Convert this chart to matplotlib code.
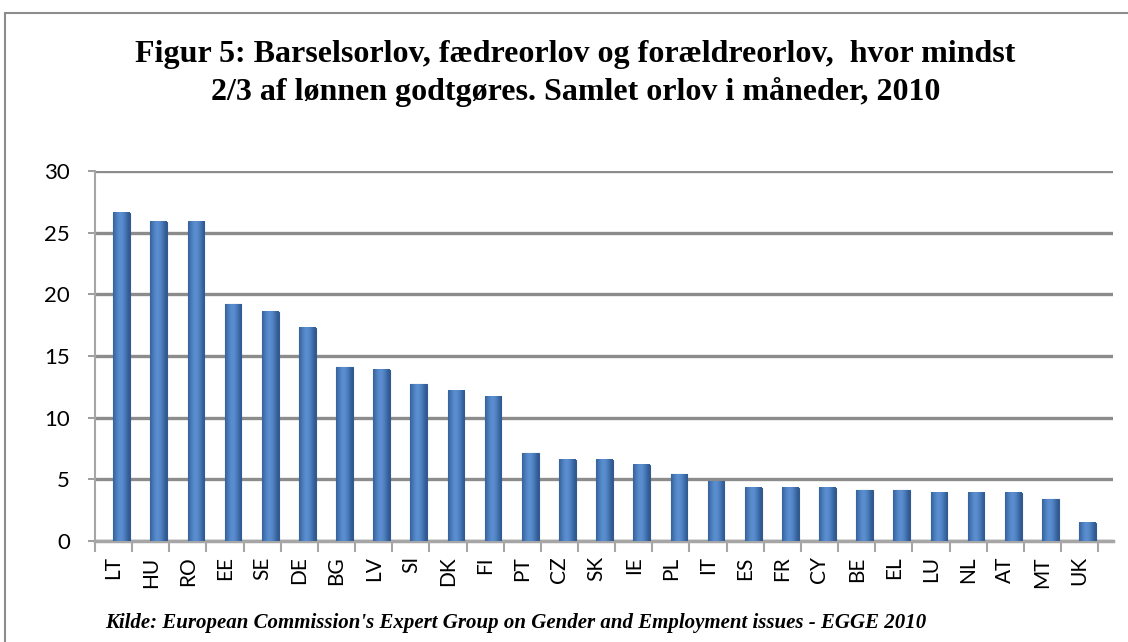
import matplotlib.pyplot as plt
import matplotlib.transforms as mtransforms
from matplotlib.patches import Rectangle
from matplotlib.colors import LinearSegmentedColormap
import numpy as np

# lande og samlet orlov i måneder
lande = ['LT', 'HU', 'RO', 'EE', 'SE', 'DE', 'BG', 'LV', 'SI', 'DK', 'FI', 'PT', 'CZ', 'SK',
         'IE', 'PL', 'IT', 'ES', 'FR', 'CY', 'BE', 'EL', 'LU', 'NL', 'AT', 'MT', 'UK']
orlov = [26.6, 25.9, 25.9, 19.2, 18.6, 17.3, 14.1, 13.9, 12.7, 12.2, 11.7, 7.1, 6.6, 6.6,
         6.2, 5.4, 4.8, 4.3, 4.3, 4.3, 4.1, 4.1, 3.9, 3.9, 3.9, 3.4, 1.5]
yticks = [0, 5, 10, 15, 20, 25, 30]

titel = ('Figur 5: Barselsorlov, fædreorlov og forældreorlov,  hvor mindst\n'
         '2/3 af lønnen godtgøres. Samlet orlov i måneder, 2010')
kilde = "Kilde: European Commission's Expert Group on Gender and Employment issues - EGGE 2010"

grid_col = '#8c8c8c'
tick_font = ['Lato', 'DejaVu Sans']

fig = plt.figure(figsize=(11.28, 6.42), dpi=100)
ax = fig.add_axes([95 / 1128, 1 - 541 / 642, 1018 / 1128, 370 / 642])

x = np.arange(len(lande))
# 3D-dybde: søjlerne står lidt bag forkanten
shift = mtransforms.offset_copy(ax.transData, fig=fig, x=8, y=0, units='dots')
bars = ax.bar(x, orlov, width=0.45, color='#4a7ebb', edgecolor='#34598a',
              linewidth=0.8, transform=shift, zorder=3)

# gradient på søjlerne
grad = np.linspace(0, 1, 64)
grad = np.exp(-((grad - 0.45) / 0.45) ** 2)[None, :]
cm = LinearSegmentedColormap.from_list('b', ['#2d5890', '#5a8ed0'])
for b in bars:
    x0 = b.get_x()
    ax.imshow(grad, cmap=cm, aspect='auto', extent=[x0, x0 + b.get_width(), 0, b.get_height()],
              transform=shift, clip_path=b, zorder=4, interpolation='bicubic')

ax.set_xlim(-0.5, 26.9)
ax.set_ylim(0, 30)
ax.set_yticks(yticks)
ax.yaxis.grid(True, color=grid_col, linewidth=2.4, zorder=1)
ax.set_axisbelow(True)

ax.set_xticks(x)
ax.set_xticklabels(lande, rotation=90, family=tick_font, fontsize=15)
ax.set_xticks(np.arange(-0.5, 26.6, 1), minor=True)
ax.tick_params(axis='x', which='major', length=0, pad=11)
ax.tick_params(axis='x', which='minor', length=8, color='#a6a6a6', width=1.5)
ax.tick_params(axis='y', length=5, color='#8c8c8c', width=1.2, pad=13, labelsize=16)
for lab in ax.get_yticklabels():
    lab.set_family(tick_font)

for s in ['top', 'right']:
    ax.spines[s].set_visible(False)
ax.spines['left'].set_color('#a6a6a6')
ax.spines['left'].set_linewidth(1.5)
ax.spines['bottom'].set_color('#a6a6a6')
ax.spines['bottom'].set_linewidth(2.5)

fig.text(0.510, 0.885, titel, ha='center', va='center', family=['Liberation Serif'],
         fontweight='bold', fontsize=23, linespacing=1.35)
fig.text(105 / 1128, 1 - 628 / 642, kilde, ha='left', va='baseline', family=['Liberation Serif'],
         fontweight='bold', style='italic', fontsize=15)

# ramme om figuren
fig.patches.append(Rectangle((5 / 1128, -0.1), 1.2, 1 - 13 / 642 + 0.1, transform=fig.transFigure,
                             fill=False, edgecolor='#8c8c8c', linewidth=1.5))

fig.savefig('out.png', dpi=100)
